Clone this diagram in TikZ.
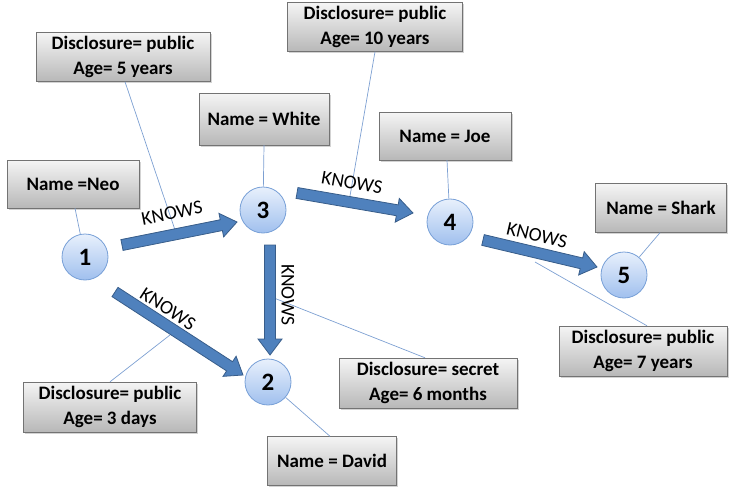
\documentclass[tikz,border=0pt]{standalone}
\usepackage{fontspec}
\setmainfont{Carlito}
\usetikzlibrary{calc,shadows}
\definecolor{arrowfill}{RGB}{79,129,189}
\definecolor{arrowdraw}{RGB}{56,93,138}
\definecolor{linec}{RGB}{125,160,210}
\definecolor{circtop}{RGB}{232,240,252}
\definecolor{circbot}{RGB}{160,192,238}
\definecolor{circdraw}{RGB}{120,160,215}
\newcommand\blockarr[2]{%
  \coordinate (ba) at (#1); \coordinate (bb) at (#2);
  \coordinate (bc) at ($(bb)!16pt!(ba)$);
  \draw[blockarrow] ($(ba)!5.5pt!90:(bb)$) -- ($(bc)!5.5pt!-90:(ba)$) -- ($(bc)!12pt!-90:(ba)$) -- (bb)
    -- ($(bc)!12pt!90:(ba)$) -- ($(bc)!5.5pt!90:(ba)$) -- ($(ba)!5.5pt!-90:(bb)$) -- cycle;}
\begin{document}
\begin{tikzpicture}[x=1pt,y=-1pt,
  infobox/.style={draw=black!55, top color=black!4, bottom color=black!28,
     drop shadow={shadow xshift=1.5pt, shadow yshift=-1.5pt, opacity=0.35},
     align=center, inner sep=0pt, font=\fontsize{19}{25}\selectfont\bfseries},
  vertex/.style={circle, draw=circdraw, line width=0.8pt, top color=circtop, bottom color=circbot,
     minimum size=46pt, inner sep=0pt, font=\fontsize{25}{28}\selectfont\bfseries},
  blockarrow/.style={fill=arrowfill, draw=arrowdraw, line width=0.8pt, line join=miter},
  thin/.style={draw=linec, line width=0.7pt},
  knows/.style={font=\fontsize{19.5}{22}\selectfont, inner sep=0pt}]
\useasboundingbox (0,0) rectangle (731,487);

% vertices
\node[vertex] (n1) at (85,257) {1};
\node[vertex] (n3) at (263,210) {3};
\node[vertex] (n4) at (450,222) {4};
\node[vertex] (n5) at (624,275) {5};
\node[vertex] (n2) at (268,382) {2};

% boxes
\node[infobox, minimum width=174pt, minimum height=49pt] (b5y) at (123,57) {Disclosure= public\\Age= 5 years};
\node[infobox, minimum width=130pt, minimum height=52pt] (bwhite) at (264,119) {Name = White};
\node[infobox, minimum width=132pt, minimum height=48pt] (bneo) at (73,184) {Name =Neo};
\node[infobox, minimum width=175pt, minimum height=49pt] (b10y) at (375,27) {Disclosure= public\\Age= 10 years};
\node[infobox, minimum width=132pt, minimum height=48pt] (bjoe) at (445,136) {Name = Joe};
\node[infobox, minimum width=131pt, minimum height=49pt] (bshark) at (661,208) {Name = Shark};
\node[infobox, minimum width=168pt, minimum height=50pt] (b7y) at (643,351) {Disclosure= public\\Age= 7 years};
\node[infobox, minimum width=178pt, minimum height=50pt] (b6m) at (428,383) {Disclosure= secret\\Age= 6 months};
\node[infobox, minimum width=173pt, minimum height=50pt] (b3d) at (110,407) {Disclosure= public\\Age= 3 days};
\node[infobox, minimum width=129pt, minimum height=49pt] (bdavid) at (332,461) {Name = David};

% arrow end points
\coordinate (s13) at (122,245); \coordinate (e13) at (237,222);
\coordinate (s34) at (297,193); \coordinate (e34) at (413,213);
\coordinate (s45) at (483,240); \coordinate (e45) at (597,267);
\coordinate (s32) at (270,245); \coordinate (e32) at (270,355);
\coordinate (s12) at (115,292); \coordinate (e12) at (243,375);

% attachment points on arrows
\coordinate (k13) at (175,230);
\coordinate (k34) at (350,196);
\coordinate (k45) at (535,262);
\coordinate (k32) at (274,298);
\coordinate (k12) at (170,335);

% thin connectors
\draw[thin] ([xshift=2pt]bneo.south) -- (n1);
\draw[thin] (bwhite.south) -- (n3);
\draw[thin] ([xshift=2pt]bjoe.south) -- (n4);
\draw[thin] ([xshift=-1pt]bshark.south) -- (n5);
\draw[thin] ([xshift=-2pt]bdavid.north) -- (n2);
\draw[thin] ([xshift=2pt]b5y.south) -- (k13);
\draw[thin] (b10y.south) -- (k34);
\draw[thin] ([xshift=4pt]b7y.north) -- (k45);
\draw[thin] ([xshift=-3pt]b6m.north) -- (k32);
\draw[thin] (b3d.north) -- (k12);

% block arrows
\blockarr{s13}{e13}
\blockarr{s34}{e34}
\blockarr{s45}{e45}
\blockarr{s32}{e32}
\blockarr{s12}{e12}

% labels
\node[knows, rotate=11] (l13) at (172,213) {KNOWS};
\node[knows, rotate=-10] (l34) at (352,183) {KNOWS};
\node[knows, rotate=-13] (l45) at (537,235) {KNOWS};
\node[knows, rotate=-33] (l12) at (168,309) {KNOWS};
\node[knows, rotate=-90] (l32) at (288,295) {KNOWS};
\end{tikzpicture}
\end{document}
